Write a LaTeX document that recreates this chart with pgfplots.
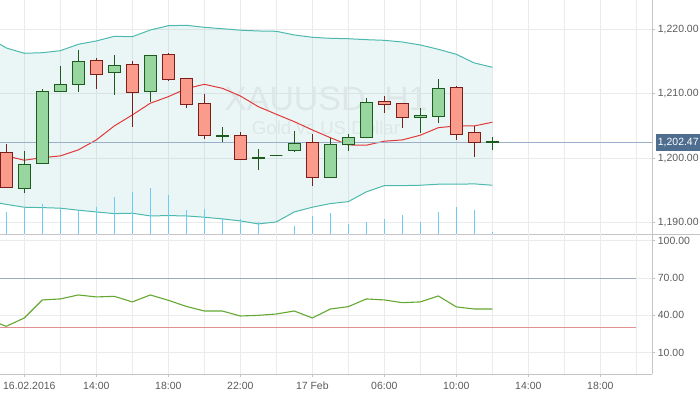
\documentclass[border=0pt]{standalone}
\usepackage{fontspec}
\setmainfont{Liberation Sans}
\usepackage{pgfplots}
\pgfplotsset{compat=1.18}
\usepgfplotslibrary{fillbetween}

\definecolor{gridc}{HTML}{EBEBEB}
\definecolor{axisc}{HTML}{C4C4C4}
\definecolor{labc}{HTML}{5A5A5A}
\definecolor{bandc}{HTML}{4DB8AE}
\definecolor{midc}{HTML}{E0393A}
\definecolor{bullf}{HTML}{98D6A0}
\definecolor{bulld}{HTML}{1E5A1E}
\definecolor{bearf}{HTML}{FA9B8C}
\definecolor{beard}{HTML}{7A1E19}
\definecolor{volc}{HTML}{6CCBF5}
\definecolor{pricec}{HTML}{9BB0C8}
\definecolor{boxc}{HTML}{4E6D8F}
\definecolor{rsic}{HTML}{64A832}
\definecolor{upc}{HTML}{9AAABF}
\definecolor{dnc}{HTML}{E09090}
\definecolor{wmc}{HTML}{DDE7E7}

\pgfplotsset{
  panel/.style={
    scale only axis, width=652.3bp, anchor=south west,
    xmin=-1.35, xmax=34.889,
    axis x line*=bottom, axis y line*=right,
    axis line style={-, draw=axisc, line width=0.8bp},
    tick align=outside, major tick length=3bp, minor tick length=0pt,
    tick style={draw=axisc, line width=0.8bp},
    grid=major, major grid style={draw=gridc, line width=0.8bp},
    tick label style={font=\fontsize{10.5}{12}\selectfont, text=labc},
    yticklabel style={anchor=west, inner sep=0pt, xshift=2.4bp},
    scaled y ticks=false,
    /pgf/number format/assume math mode=true,
    /pgf/number format/fixed, /pgf/number format/fixed zerofill,
    /pgf/number format/precision=2, /pgf/number format/1000 sep={,},
    clip mode=individual,
  },
  bullb/.style={draw=bulld, fill=bullf, line width=0.9bp},
  bullw/.style={draw=bulld, line width=1bp},
  bearb/.style={draw=beard, fill=bearf, line width=0.9bp},
  bearw/.style={draw=beard, line width=1bp},
}

% style, x, low, body low, body high, high
\newcommand{\candle}[6]{%
  \pgfmathsetmacro\xa{#2-0.333}\pgfmathsetmacro\xb{#2+0.333}%
  \edef\tmp{%
    \noexpand\addplot[#1w] coordinates {(#2,#3) (#2,#6)};
    \noexpand\addplot[#1b] coordinates {(\xa,#4) (\xb,#4) (\xb,#5) (\xa,#5) (\xa,#4)};
  }\tmp}

\begin{document}
\begin{tikzpicture}

% ---------- price panel ----------
\begin{axis}[panel, at={(0bp,160bp)}, height=234bp,
  ymin=1188.247, ymax=1224.545,
  xtick={0,2,...,34}, xticklabel={\mbox{}}, x tick style={draw=none},
  ytick={1190,1200,1210,1220}]

\addplot[bandc, line width=1bp, name path=up] coordinates {
(-2,1218.75) (-1,1217.1) (0,1216.28) (1,1216.37) (2,1216.68) (3,1217.67) (4,1218.19)
(5,1218.91) (6,1218.85) (7,1219.89) (8,1220.56) (9,1220.62) (10,1220.31) (11,1220.09)
(12,1219.86) (13,1219.74) (14,1219.69) (15,1219.12) (16,1218.76) (17,1218.6) (18,1218.54)
(19,1218.39) (20,1218.29) (21,1218.03) (22,1217.57) (23,1216.9) (24,1216.12) (25,1214.78) (26,1214.11)};
\addplot[bandc, line width=1bp, name path=lo] coordinates {
(-2,1193.36) (-1,1192.84) (0,1192.4) (1,1192.34) (2,1192.25) (3,1191.94) (4,1191.67)
(5,1191.41) (6,1191.47) (7,1191.05) (8,1191.1) (9,1191.05) (10,1190.85) (11,1190.59)
(12,1190.28) (13,1189.81) (14,1190.12) (15,1191.67) (16,1192.4) (17,1192.96) (18,1193.27)
(19,1194.78) (20,1195.75) (21,1195.75) (22,1195.81) (23,1195.97) (24,1195.97) (25,1196.02) (26,1195.81)};
\addplot[fill=bandc, fill opacity=0.12, draw=none] fill between[of=up and lo];

\node[text=wmc, anchor=base, font=\fontsize{34}{36}\selectfont] at (axis cs:16.76,1207.44) {XAUUSD, H1};
\node[text=wmc, anchor=base, font=\fontsize{18.7}{20}\selectfont] at (axis cs:16.76,1203.65) {Gold vs US Dollar};

\addplot[midc, line width=1bp] coordinates {
(-2,1201.25) (-1,1200.36) (0,1199.69) (1,1200.09) (2,1200.36) (3,1201.29) (4,1202.84)
(5,1205.01) (6,1206.71) (7,1208.53) (8,1209.55) (9,1210.79) (10,1211.47) (11,1210.85)
(12,1209.66) (13,1208.0) (14,1206.82) (15,1205.67) (16,1204.39) (17,1203.19) (18,1202.06)
(19,1202.02) (20,1202.64) (21,1202.84) (22,1203.57) (23,1204.74) (24,1205.01) (25,1205.01) (26,1205.58)};

\addplot[pricec, line width=0.9bp] coordinates {(-1.35,1202.47) (34.889,1202.47)};

\candle{bear}{-1}{1195.5}{1195.5}{1200.93}{1202.22}
\candle{bull}{0}{1194.67}{1195.35}{1199.07}{1201.13}
\candle{bull}{1}{1199.22}{1199.22}{1210.39}{1210.74}
\candle{bull}{2}{1210.39}{1210.39}{1211.47}{1214.31}
\candle{bull}{3}{1210.33}{1211.47}{1215.04}{1216.79}
\candle{bear}{4}{1210.79}{1213.02}{1215.19}{1215.5}
\candle{bull}{5}{1209.86}{1213.38}{1214.42}{1216.02}
\candle{bear}{6}{1204.9}{1210.23}{1214.57}{1215.09}
\candle{bull}{7}{1208.78}{1210.39}{1215.97}{1215.97}
\candle{bear}{8}{1211.94}{1212.25}{1216.12}{1216.33}
\candle{bear}{9}{1207.75}{1208.37}{1212.34}{1212.34}
\candle{bear}{10}{1203.04}{1203.57}{1208.53}{1209.92}
\candle{bull}{11}{1202.57}{1203.43}{1203.57}{1204.85}
\candle{bear}{12}{1199.84}{1199.84}{1203.57}{1204.03}
\candle{bull}{13}{1198.23}{1200.02}{1200.16}{1201.4}
\candle{bull}{14}{1200.47}{1200.47}{1200.47}{1200.47}
\candle{bull}{15}{1200.98}{1201.24}{1202.33}{1204.19}
\candle{bear}{16}{1195.75}{1197.05}{1202.48}{1203.77}
\candle{bull}{17}{1197.05}{1197.05}{1202.17}{1203.1}
\candle{bull}{18}{1201.18}{1202.17}{1203.26}{1203.72}
\candle{bull}{19}{1203.26}{1203.26}{1208.68}{1209.3}
\candle{bear}{20}{1207.07}{1208.37}{1208.84}{1209.61}
\candle{bear}{21}{1204.74}{1206.36}{1208.53}{1208.53}
\candle{bull}{22}{1203.97}{1206.36}{1206.67}{1207.75}
\candle{bull}{23}{1205.52}{1206.45}{1210.85}{1212.29}
\candle{bear}{24}{1202.88}{1203.66}{1211.01}{1211.21}
\candle{bear}{25}{1200.25}{1202.48}{1204.03}{1204.96}
\candle{bull}{26}{1201.2}{1202.4}{1202.54}{1203.35}

\node[fill=boxc, text=white, anchor=west, inner xsep=2.4bp, inner ysep=0pt,
  minimum height=17.3bp, font=\fontsize{10.5}{12}\selectfont, xshift=3bp]
  at (axis cs:34.889,1202.47) {1,202.47};
\end{axis}

% ---------- volume overlay ----------
\begin{axis}[at={(0bp,160bp)}, anchor=south west, scale only axis,
  width=652.3bp, height=234bp, xmin=-1.35, xmax=34.889, ymin=0, ymax=234, hide axis]
\addplot[ycomb, draw=volc, line width=1bp, mark=none] coordinates {
(-1,22) (0,25.7) (1,30) (2,24.7) (3,24) (4,27) (5,37) (6,42) (7,46) (8,39) (9,24)
(10,25) (11,16) (12,15) (13,12) (15,8) (16,18) (17,21) (18,10) (19,12) (20,15)
(21,19) (22,12) (23,22) (24,27) (25,24) (26,2)};
\end{axis}

% ---------- RSI panel ----------
\begin{axis}[panel, at={(0bp,19.7bp)}, height=140.3bp,
  ymin=-7.36, ymax=105.38,
  xtick={0,4,...,32}, minor xtick={2,6,...,34},
  grid=both, minor grid style={draw=gridc, line width=0.8bp},
  xticklabels={{\hspace*{10bp}16.02.2016},14:00,18:00,22:00,17 Feb,06:00,10:00,14:00,18:00},
  xticklabel style={anchor=base, inner sep=0pt, yshift=-12bp},
  ytick={10,40,70,100}]
\addplot[upc, line width=1bp] coordinates {(-1.35,70) (34,70)};
\addplot[dnc, line width=1bp] coordinates {(-1.35,30) (34,30)};
\addplot[rsic, line width=1.1bp] coordinates {
(-2,36.7) (-1,31.2) (0,37.9) (1,52.4) (2,53.2) (3,56.4) (4,54.8) (5,55.3) (6,50.8)
(7,56.4) (8,52.1) (9,47.2) (10,43.5) (11,43.5) (12,39.5) (13,40.0) (14,41.1)
(15,43.5) (16,37.9) (17,45.1) (18,47.0) (19,53.2) (20,52.4) (21,50.2) (22,50.8)
(23,55.6) (24,46.8) (25,45.1) (26,45.1)};
\end{axis}

\draw[axisc, line width=0.8bp] (652.3bp,160bp) -- (700bp,160bp);
\pgfresetboundingbox
\path[use as bounding box] (0,0) rectangle (700bp,394bp);
\end{tikzpicture}
\end{document}
